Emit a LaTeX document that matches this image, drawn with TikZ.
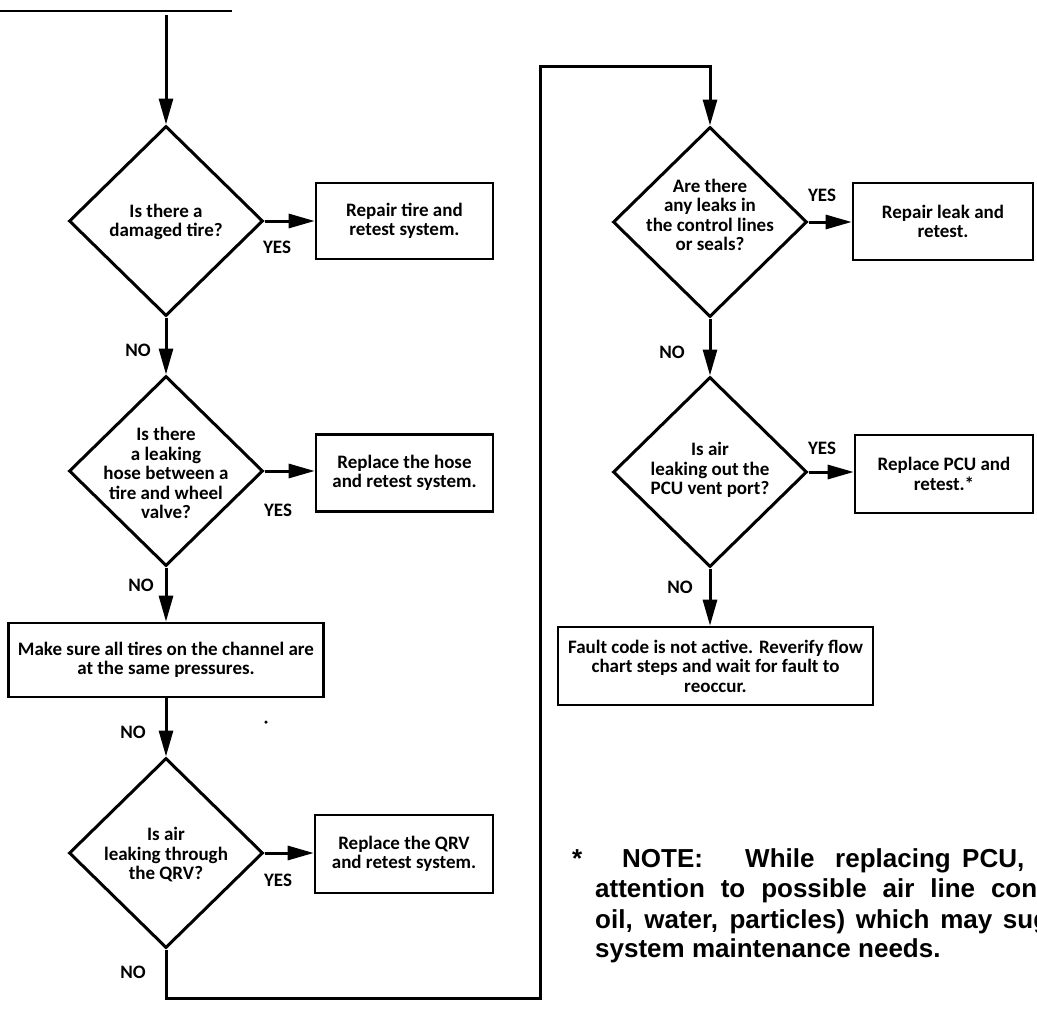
\documentclass[tikz,border=0pt]{standalone}
\usepackage{fontspec}
\setmainfont{Carlito}
\newfontfamily\notefont{Liberation Sans}
\usetikzlibrary{shapes.geometric,arrows.meta}
\begin{document}
\begin{tikzpicture}[x=1pt,y=-1pt,
  every node/.style={font=\fontsize{19}{19.5}\selectfont\bfseries},
  ln/.style={line width=3pt},
  arr/.style={ln,-{Triangle[length=26pt,width=14pt]}},
  dia/.style={diamond,draw,ln,minimum width=194pt,minimum height=190pt,inner sep=0pt},
  dtxt/.style={align=center,inner sep=0pt},
  box/.style={rectangle,draw,line width=2.6pt,align=center,inner sep=0pt},
  lbl/.style={inner sep=0pt},
  note/.style={font=\notefont\bfseries\fontsize{26}{30}\selectfont,inner sep=0pt,anchor=base west}]
\useasboundingbox (0,0) rectangle (1037,1009);

% entry
\coordinate (tl) at (0,11);
\coordinate (tr) at (232,11);
\draw[line width=2pt] (tl) -- (tr);
\coordinate (top) at (166,15);

% left column
\node[dia] (d1) at (166,221) {};
\node[dtxt] (d1t) at (166,222) {Is there a\\damaged tire?};
\node[box,minimum width=177pt,minimum height=76pt] (b1) at (404.5,221) {Repair tire and\\retest system.};

\node[dia] (d2) at (166,471) {};
\node[dtxt] (d2t) at (166,473) {Is there\\a leaking\\hose between a\\tire and wheel\\valve?};
\node[box,minimum width=177pt,minimum height=77pt] (b2) at (404.5,473) {Replace the hose\\and retest system.};

\node[box,minimum width=315pt,minimum height=74pt] (b3) at (166,660) {Make sure all tires on the channel are\\at the same pressures.};

\node[dia] (d3) at (166,853) {};
\node[dtxt] (d3t) at (166,855) {Is air\\leaking through\\the QRV?};
\node[box,minimum width=178pt,minimum height=78pt] (b4) at (404,854) {Replace the QRV\\and retest system.};

\node[circle,fill,inner sep=0pt,minimum size=3.5pt] (dot) at (266,722) {};

% right column
\node[dia] (d4) at (710,222) {};
\node[dtxt] (d4t) at (710,215) {Are there\\any leaks in\\the control lines\\or seals?};
\node[box,minimum width=180pt,minimum height=77pt] (b5) at (943,221.5) {Repair leak and\\retest.};

\node[dia] (d5) at (710,472) {};
\node[dtxt] (d5t) at (710,470) {Is air\\leaking out the\\PCU vent port?};
\node[box,minimum width=178pt,minimum height=78pt] (b6) at (944,474) {Replace PCU and\\retest.*};

\node[box,minimum width=315pt,minimum height=78pt] (b7) at (715.5,666) {Fault code is not active. Reverify flow\\chart steps and wait for fault to\\reoccur.};

% labels
\node[lbl] (y1) at (277,247) {YES};
\node[lbl] (y2) at (278,510) {YES};
\node[lbl] (y3) at (278,880) {YES};
\node[lbl] (y4) at (822,195) {YES};
\node[lbl] (y5) at (822,448) {YES};
\node[lbl] (n1) at (138,350) {NO};
\node[lbl] (n2) at (141,585) {NO};
\node[lbl] (n3) at (133,732) {NO};
\node[lbl] (n4) at (133,972) {NO};
\node[lbl] (n5) at (672,352) {NO};
\node[lbl] (n6) at (680,587) {NO};

% connectors
\coordinate (lb) at (540,998);
\coordinate (lt) at (540,66);
\draw[arr] (top) -- (d1.north);
\draw[arr] (d1.east) -- (d1.east -| b1.west);
\draw[arr] (d1.south) -- (d2.north);
\draw[arr] (d2.east) -- (d2.east -| b2.west);
\draw[arr] (d2.south) -- (d2.south |- b3.north);
\draw[arr] (b3.south) -- (d3.north);
\draw[arr] (d3.east) -- (d3.east -| b4.west);
\draw[arr] (d3.south) |- (lb) -- (lt) -| (d4.north);
\draw[arr] (d4.east) -- (d4.east -| b5.west);
\draw[arr] (d4.south) -- (d5.north);
\draw[arr] (d5.east) -- (d5.east -| b6.west);
\draw[arr] (d5.south) -- (d5.south |- b7.north);

% note
\begin{scope}
\clip (0,0) rectangle (1037,1009);
\node[note] (nstar) at (572,867) {*};
\node[note] (nnote) at (622,867) {NOTE:};
\node[note] (nwhile) at (745,867) {While};
\node[note] (nrepl) at (835,867) {replacing};
\node[note] (npcu) at (962,867) {PCU,};
\node[note] (nl2) at (595,897) {\makebox[442pt][s]{attention to possible air line con}};
\node[note] (nl3) at (595,928) {\makebox[454pt][s]{oil, water, particles) which may sug}};
\node[note] (nl4) at (595,957) {system maintenance needs.};
\end{scope}
\end{tikzpicture}
\end{document}
